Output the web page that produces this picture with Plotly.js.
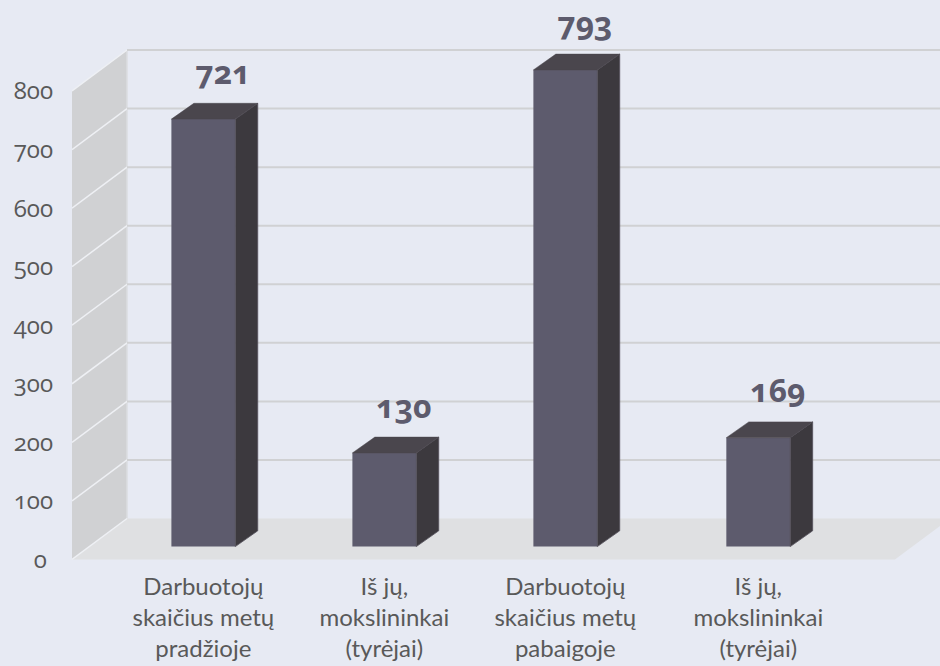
<!DOCTYPE html>
<html>
<head>
<meta charset="utf-8">
<script src="https://cdn.plot.ly/plotly-3.0.1.min.js"></script>
<style>
html,body{margin:0;padding:0;background:#e7eaf3}
svg text{font-feature-settings:"onum" 1}
</style>
</head>
<body>
<div id="chart" style="width:940px;height:666px"></div>
<script>
const categories = [
  'Darbuotojų<br>skaičius metų<br>pradžioje',
  'Iš jų,<br>mokslininkai<br>(tyrėjai)',
  'Darbuotojų<br>skaičius metų<br>pabaigoje',
  'Iš jų,<br>mokslininkai<br>(tyrėjai)'
];
const barPositions = [0, 1, 2, 3.066];
const barHeights = [730, 160, 814, 186];
const shownLabels = ['721', '130', '793', '169'];
const axisTicks = [0, 100, 200, 300, 400, 500, 600, 700, 800];
const axisTickText = ['0\u00a0', '100', '200', '300', '400', '500', '600', '700', '800'];

const floorLift = 22, barWidth = 0.353;
const barDx = 0.124, barDy = 27;
const wallDx = 0.304, wallDy = 70;
const xLeft = -0.7257, xFrontRight = 3.821, xEnd = 4.07;
const labelDx = 0.108, labelDy = 74;

const sideX = [], sideY = [], topX = [], topY = [], labelX = [], labelY = [];
barPositions.forEach((p, i) => {
  const r = p + barWidth / 2, l = p - barWidth / 2;
  const b = floorLift, t = floorLift + barHeights[i];
  sideX.push(r, r + barDx, r + barDx, r, r, null);
  sideY.push(b, b + barDy, t + barDy, t, b, null);
  topX.push(l, l + barDx, r + barDx, r, l, null);
  topY.push(t, t + barDy, t + barDy, t, t, null);
  labelX.push(p + labelDx);
  labelY.push(t + labelDy);
});

const poly = (pts, fill) => ({
  type: 'path', xref: 'x', yref: 'y', layer: 'below', fillcolor: fill,
  line: {width: 0},
  path: 'M' + pts.map(q => q[0] + ',' + q[1]).join('L') + 'Z'
});
const seg = (x0, y0, x1, y1, color, width) => ({
  type: 'line', xref: 'x', yref: 'y', layer: 'below', x0, y0, x1, y1,
  line: {color, width}
});
const maxTick = axisTicks[axisTicks.length - 1];
const shapes = [
  poly([[xLeft, 0], [xLeft + wallDx, wallDy], [xLeft + wallDx, maxTick + wallDy], [xLeft, maxTick]], '#d0d1d3'),
  poly([[xLeft, 0], [xLeft + wallDx, wallDy], [xFrontRight + wallDx, wallDy], [xFrontRight, 0]], '#dfe0e2'),
  seg(xLeft + wallDx, wallDy, xLeft + wallDx, maxTick + wallDy, '#dcdde1', 1.5)
];
axisTicks.forEach(v => {
  shapes.push(seg(xLeft, v, xLeft + wallDx, v + wallDy, '#eef0f4', 1.5));
  if (v > 0) shapes.push(seg(xLeft + wallDx, v + wallDy, xEnd + 1, v + wallDy, '#d0d1d3', 2));
});

const traces = [
  {type: 'bar', x: barPositions, y: barHeights, base: floorLift, width: barWidth,
   marker: {color: '#5d5b6d', line: {width: 0}}, hoverinfo: 'skip'},
  {type: 'scatter', mode: 'lines', x: sideX, y: sideY, fill: 'toself', fillcolor: '#3c393e',
   line: {color: '#55525d', width: 0.8}, hoverinfo: 'skip'},
  {type: 'scatter', mode: 'lines', x: topX, y: topY, fill: 'toself', fillcolor: '#4a464d',
   line: {color: '#4a464d', width: 0.5}, hoverinfo: 'skip'},
  {type: 'scatter', mode: 'text', x: labelX, y: labelY, text: shownLabels,
   textposition: 'middle center', cliponaxis: false,
   textfont: {family: '"Open Sans", sans-serif', size: 32, color: '#5d5b6d', weight: 700}, hoverinfo: 'skip'}
];

const layout = {
  width: 940, height: 666,
  margin: {l: 72, r: 0, t: 0, b: 104, pad: 0},
  paper_bgcolor: '#e7eaf3', plot_bgcolor: '#e7eaf3',
  showlegend: false, shapes,
  xaxis: {range: [xLeft, xEnd], tickmode: 'array', tickvals: barPositions, ticktext: categories,
    showgrid: false, zeroline: false, showline: false, ticks: '', ticklabelstandoff: 8,
    tickangle: 0, tickfont: {family: 'Lato, sans-serif', size: 24, color: '#595959'}},
  yaxis: {range: [-4.27, 955.4], tickmode: 'array', tickvals: axisTicks, ticktext: axisTickText,
    showgrid: false, zeroline: false, showline: false, ticks: '', ticklabelstandoff: 18,
    tickfont: {family: '"Open Sans", sans-serif', size: 24, color: '#595959'}}
};
Plotly.newPlot('chart', traces, layout, {displayModeBar: false, staticPlot: true});
</script>
</body>
</html>
